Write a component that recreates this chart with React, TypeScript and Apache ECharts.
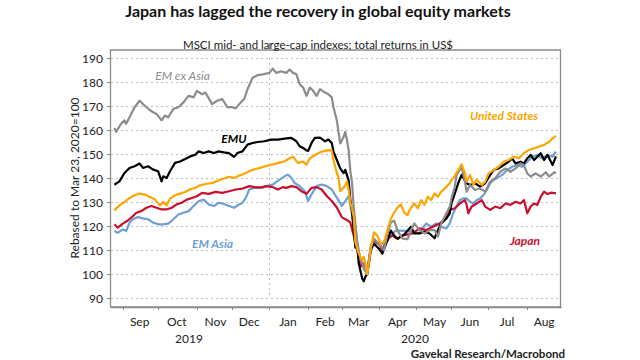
import React, { useEffect, useRef } from "react";
import * as echarts from "echarts";

const FONT = "Lato, 'Open Sans', sans-serif";

// Axis range: every weekday from 2019-08-22 to 2020-08-31
const AXIS_START = "2019-08-22";
const AXIS_END = "2020-08-31";
const MONTHS = ["Jan", "Feb", "Mar", "Apr", "May", "Jun", "Jul", "Aug", "Sep", "Oct", "Nov", "Dec"];
const YEAR_LABELS = ["2019", "2020"];

const SERIES_NAMES = ["EM ex Asia", "EMU", "United States", "Japan", "EM Asia"];

const emExAsia: [string, number][] = [
  ["2019-08-26",160.9],["2019-08-27",159.2],["2019-08-30",162.6],["2019-09-03",164],["2019-09-04",162.6],["2019-09-09",166.7],["2019-09-11",169.5],["2019-09-16",172.2],["2019-09-19",170.1],["2019-09-25",167.8],["2019-09-30",166.7],["2019-10-03",164],["2019-10-07",166],["2019-10-09",165.3],["2019-10-14",168.8],["2019-10-17",169.5],["2019-10-22",171.5],["2019-10-25",174.2],["2019-10-30",173.6],["2019-11-01",176.3],["2019-11-06",174.9],["2019-11-08",175.6],["2019-11-14",170.8],["2019-11-19",172.2],["2019-11-22",172.9],["2019-11-27",169.5],["2019-12-02",169.5],["2019-12-04",169],["2019-12-09",171.5],["2019-12-11",172.9],["2019-12-13",177],["2019-12-18",181.8],["2019-12-23",182.9],["2019-12-26",183.2],["2020-01-01",183.8],["2020-01-03",185.6],["2020-01-07",183.8],["2020-01-10",184.5],["2020-01-15",183.8],["2020-01-17",185.2],["2020-01-21",183.8],["2020-01-23",183.2],["2020-01-27",179],["2020-01-29",177.7],["2020-01-31",174.2],["2020-02-04",177.7],["2020-02-06",176.3],["2020-02-10",174.2],["2020-02-12",177],["2020-02-17",175.6],["2020-02-19",174.9],["2020-02-21",173.6],["2020-02-24",169.5],["2020-02-26",164],["2020-02-28",154.4],["2020-03-03",157.1],["2020-03-04",159.2],["2020-03-05",155.8],["2020-03-06",151.6],["2020-03-09",143],["2020-03-10",138],["2020-03-11",128],["2020-03-13",114],["2020-03-17",105.8],["2020-03-19",103],["2020-03-23",100],["2020-03-25",111.2],["2020-03-27",114.7],["2020-04-01",112.6],["2020-04-06",109.9],["2020-04-08",116.7],["2020-04-10",121.5],["2020-04-14",122.2],["2020-04-16",118.1],["2020-04-21",114.7],["2020-04-24",114.5],["2020-04-28",118.3],["2020-04-30",121.1],["2020-05-05",118.3],["2020-05-08",116.9],["2020-05-13",118.3],["2020-05-18",118.3],["2020-05-20",115.6],["2020-05-22",121.1],["2020-05-27",125.3],["2020-05-29",128],["2020-06-01",131.5],["2020-06-03",136.4],["2020-06-04",141.2],["2020-06-09",144.7],["2020-06-11",138.5],["2020-06-12",134.3],["2020-06-16",137.1],["2020-06-19",135],["2020-06-24",135.7],["2020-06-29",134.3],["2020-07-02",138.5],["2020-07-07",139.9],["2020-07-10",142.6],["2020-07-15",144],["2020-07-20",142.6],["2020-07-23",144],["2020-07-28",146.1],["2020-07-30",145.4],["2020-08-03",141.9],["2020-08-05",140.6],["2020-08-10",141.9],["2020-08-13",140.6],["2020-08-18",142.4],["2020-08-20",140.6],["2020-08-25",142.4],["2020-08-26",142]
];

const emu: [string, number][] = [
  ["2019-08-26",137.2],["2019-08-29",138.6],["2019-09-03",142.1],["2019-09-06",144.2],["2019-09-11",144.9],["2019-09-16",146],["2019-09-18",144.2],["2019-09-23",144.9],["2019-09-26",143.5],["2019-10-01",142.8],["2019-10-03",138.6],["2019-10-04",140.7],["2019-10-08",140],["2019-10-10",142.8],["2019-10-15",146.3],["2019-10-18",146.9],["2019-10-23",147.9],["2019-10-28",149],["2019-10-31",149.7],["2019-11-04",151.1],["2019-11-07",150.4],["2019-11-12",151.1],["2019-11-15",150.4],["2019-11-20",151.1],["2019-11-25",150.7],["2019-11-28",150.4],["2019-12-03",148.8],["2019-12-05",150.4],["2019-12-10",151.1],["2019-12-13",153.9],["2019-12-18",154.6],["2019-12-23",155],["2019-12-27",155.3],["2020-01-02",156],["2020-01-08",156],["2020-01-14",156.4],["2020-01-20",156.7],["2020-01-23",155.3],["2020-01-27",153.2],["2020-01-29",152.5],["2020-01-31",151.5],["2020-02-03",151.3],["2020-02-05",154.6],["2020-02-07",156.7],["2020-02-12",156.8],["2020-02-17",155.3],["2020-02-19",156],["2020-02-21",154.6],["2020-02-24",151],["2020-02-26",147.5],["2020-02-28",144],["2020-03-03",142],["2020-03-04",143.4],["2020-03-06",139],["2020-03-09",131],["2020-03-10",126],["2020-03-12",111],["2020-03-13",113],["2020-03-16",104.4],["2020-03-18",98.2],["2020-03-19",97],["2020-03-20",99],["2020-03-23",100],["2020-03-24",105],["2020-03-25",109.9],["2020-03-27",112.6],["2020-04-01",110.5],["2020-04-03",108.5],["2020-04-08",114],["2020-04-10",118.1],["2020-04-14",116],["2020-04-16",114.7],["2020-04-22",116.5],["2020-04-28",119.7],["2020-04-30",116.9],["2020-05-05",116.9],["2020-05-08",117.6],["2020-05-13",116.9],["2020-05-18",114.9],["2020-05-20",118.3],["2020-05-22",121.1],["2020-05-27",123.2],["2020-05-29",125.3],["2020-06-01",129.4],["2020-06-03",133.6],["2020-06-05",137.8],["2020-06-09",141.3],["2020-06-12",137.8],["2020-06-16",137.1],["2020-06-19",137.8],["2020-06-24",136.4],["2020-06-29",137.8],["2020-07-02",141.3],["2020-07-06",143.3],["2020-07-09",144],["2020-07-14",145.4],["2020-07-17",146.8],["2020-07-21",148.2],["2020-07-23",146.1],["2020-07-28",146.8],["2020-07-30",146.1],["2020-08-03",148.2],["2020-08-05",149.6],["2020-08-07",147.5],["2020-08-11",148.9],["2020-08-13",150.3],["2020-08-17",147.5],["2020-08-19",149.6],["2020-08-24",145.4],["2020-08-26",149]
];

const unitedStates: [string, number][] = [
  ["2019-08-26",126.5],["2019-08-29",128.6],["2019-09-03",130],["2019-09-06",131.7],["2019-09-11",132.8],["2019-09-16",133.5],["2019-09-19",133.1],["2019-09-24",132.1],["2019-09-27",131.1],["2019-10-02",128.6],["2019-10-04",130],["2019-10-08",128.6],["2019-10-10",131.4],["2019-10-15",132.8],["2019-10-18",133.5],["2019-10-23",134.2],["2019-10-28",135.3],["2019-10-31",135.9],["2019-11-04",136.7],["2019-11-07",137.3],["2019-11-12",137.7],["2019-11-15",138.1],["2019-11-20",139.1],["2019-11-25",139.8],["2019-11-28",140.5],["2019-12-03",140],["2019-12-06",141],["2019-12-10",141.4],["2019-12-16",142.8],["2019-12-18",143.4],["2019-12-24",144.1],["2019-12-27",144.8],["2020-01-02",145.5],["2020-01-08",146.2],["2020-01-14",147],["2020-01-17",148.2],["2020-01-21",148.9],["2020-01-24",146.2],["2020-01-27",146.5],["2020-01-29",146.8],["2020-01-31",145.5],["2020-02-04",148.2],["2020-02-07",149.6],["2020-02-13",151],["2020-02-19",151.6],["2020-02-21",151.4],["2020-02-24",147.5],["2020-02-26",142.1],["2020-02-27",140],["2020-02-28",134.5],["2020-03-03",135.9],["2020-03-04",137],["2020-03-05",138.6],["2020-03-06",135],["2020-03-09",130],["2020-03-11",124],["2020-03-12",113.3],["2020-03-16",108.5],["2020-03-18",105.8],["2020-03-19",107.1],["2020-03-20",104],["2020-03-23",100],["2020-03-25",109.9],["2020-03-27",117.4],["2020-03-31",116],["2020-04-02",112.6],["2020-04-06",113.3],["2020-04-08",118.1],["2020-04-10",122.9],["2020-04-14",125.6],["2020-04-16",127.7],["2020-04-20",129],["2020-04-22",125.6],["2020-04-24",124.5],["2020-04-27",126.5],["2020-04-30",129.4],["2020-05-04",127.4],["2020-05-06",130.8],["2020-05-08",128.8],["2020-05-12",132.2],["2020-05-14",130.8],["2020-05-18",133.6],["2020-05-20",132.2],["2020-05-22",134.3],["2020-05-27",136.4],["2020-05-29",137.8],["2020-06-01",139.2],["2020-06-02",139.9],["2020-06-05",143.3],["2020-06-09",145.7],["2020-06-11",141.9],["2020-06-12",138.5],["2020-06-16",141.3],["2020-06-18",137.1],["2020-06-22",139.2],["2020-06-25",137.1],["2020-06-29",138.5],["2020-07-01",141.9],["2020-07-06",143.3],["2020-07-09",144.7],["2020-07-14",146.8],["2020-07-17",147.5],["2020-07-22",148.9],["2020-07-27",148.2],["2020-07-30",150.3],["2020-08-04",151.7],["2020-08-07",152.4],["2020-08-12",153.1],["2020-08-17",153.8],["2020-08-20",155.1],["2020-08-24",156.5],["2020-08-26",157.6]
];

const japan: [string, number][] = [
  ["2019-08-26",120.7],["2019-08-28",119.3],["2019-09-02",121],["2019-09-05",122.3],["2019-09-10",124.1],["2019-09-12",125.5],["2019-09-17",126.2],["2019-09-20",127.6],["2019-09-25",128.3],["2019-09-30",127.6],["2019-10-03",126.9],["2019-10-08",126.9],["2019-10-11",127.6],["2019-10-16",129],["2019-10-21",129.7],["2019-10-24",131],["2019-10-29",131.7],["2019-11-01",132.4],["2019-11-06",133.8],["2019-11-12",133.4],["2019-11-18",134.2],["2019-11-22",133.8],["2019-11-28",134.5],["2019-12-04",135.2],["2019-12-10",135.6],["2019-12-16",136.6],["2019-12-20",136.1],["2019-12-26",136.1],["2019-12-30",136.6],["2020-01-03",136.2],["2020-01-08",135.2],["2020-01-13",136.2],["2020-01-15",135.9],["2020-01-20",136.6],["2020-01-23",136.2],["2020-01-28",134.5],["2020-01-31",133.4],["2020-02-05",135.9],["2020-02-10",136.2],["2020-02-13",135.2],["2020-02-18",132.5],["2020-02-21",130.4],["2020-02-26",127.7],["2020-03-02",123.6],["2020-03-05",122.5],["2020-03-09",121.5],["2020-03-11",116],["2020-03-13",110.5],["2020-03-17",103],["2020-03-19",104.4],["2020-03-20",103],["2020-03-23",100],["2020-03-25",110.5],["2020-03-27",114],["2020-04-01",112.6],["2020-04-03",109.9],["2020-04-08",114.7],["2020-04-13",116],["2020-04-16",114.7],["2020-04-21",116],["2020-04-24",116.5],["2020-04-29",116.9],["2020-05-05",119],["2020-05-11",118.3],["2020-05-15",119.7],["2020-05-21",121.1],["2020-05-27",123.2],["2020-05-29",126.7],["2020-06-03",127.4],["2020-06-08",129.4],["2020-06-11",130.8],["2020-06-12",128.8],["2020-06-15",125.3],["2020-06-17",128.1],["2020-06-22",129.4],["2020-06-25",130.8],["2020-06-29",128.1],["2020-07-02",126.7],["2020-07-07",128.1],["2020-07-10",127.4],["2020-07-15",129.4],["2020-07-20",128.8],["2020-07-23",130.1],["2020-07-28",129.4],["2020-07-30",130.8],["2020-08-03",125.3],["2020-08-05",128.1],["2020-08-07",129.4],["2020-08-11",128.8],["2020-08-13",132.2],["2020-08-17",134.3],["2020-08-19",133.3],["2020-08-21",133.9],["2020-08-26",133.6]
];

const emAsia: [string, number][] = [
  ["2019-08-26",117.9],["2019-08-28",117.2],["2019-09-02",118.6],["2019-09-04",117.9],["2019-09-06",121.4],["2019-09-10",122.8],["2019-09-13",123.7],["2019-09-18",123.2],["2019-09-23",122.8],["2019-09-26",121.4],["2019-10-01",120.7],["2019-10-04",120.7],["2019-10-09",121],["2019-10-14",122.8],["2019-10-17",124.8],["2019-10-22",125.5],["2019-10-25",126.2],["2019-10-30",128.3],["2019-11-04",130.3],["2019-11-07",131],["2019-11-12",129],["2019-11-15",128.3],["2019-11-20",129.7],["2019-11-25",129.2],["2019-11-28",128.3],["2019-12-03",127.6],["2019-12-06",129],["2019-12-10",129.7],["2019-12-12",131.7],["2019-12-16",135.2],["2019-12-19",135.9],["2019-12-24",135.9],["2019-12-30",136.6],["2020-01-03",137.3],["2020-01-09",139.3],["2020-01-14",140.7],["2020-01-16",141.4],["2020-01-20",140],["2020-01-22",137.9],["2020-01-27",136.6],["2020-01-30",134.5],["2020-02-03",130.4],["2020-02-05",133.2],["2020-02-10",136.6],["2020-02-13",137.3],["2020-02-18",136.6],["2020-02-21",135.2],["2020-02-26",131.8],["2020-03-02",128.4],["2020-03-04",130.4],["2020-03-06",132.5],["2020-03-10",124.9],["2020-03-12",115.3],["2020-03-16",108.5],["2020-03-18",104.4],["2020-03-19",102],["2020-03-23",100],["2020-03-26",112.6],["2020-03-31",112.6],["2020-04-07",112.6],["2020-04-10",116],["2020-04-15",118.1],["2020-04-20",118.1],["2020-04-23",118],["2020-04-29",117.6],["2020-05-05",116.9],["2020-05-11",121.1],["2020-05-14",119.7],["2020-05-19",121.1],["2020-05-22",119.7],["2020-05-27",119],["2020-05-29",121.1],["2020-06-02",125.3],["2020-06-04",128.1],["2020-06-08",130.8],["2020-06-10",131.5],["2020-06-12",131.5],["2020-06-16",130.1],["2020-06-18",129.4],["2020-06-22",130.8],["2020-06-24",131.5],["2020-06-26",132.9],["2020-06-30",135],["2020-07-02",137.8],["2020-07-06",139.2],["2020-07-13",141.2],["2020-07-16",143.3],["2020-07-21",144.7],["2020-07-24",145.4],["2020-07-29",144.7],["2020-08-03",146.8],["2020-08-06",148.9],["2020-08-11",149.6],["2020-08-14",148.2],["2020-08-19",149.6],["2020-08-24",148.9],["2020-08-26",151]
];

const COLORS = {
  emExAsia: "#8c8c8c",
  emu: "#000000",
  us: "#FFA500",
  japan: "#C8102E",
  emAsia: "#6E9FD6",
};

function weekdays(start: string, end: string): string[] {
  const out: string[] = [];
  const d = new Date(start + "T00:00:00Z");
  const e = new Date(end + "T00:00:00Z");
  while (d <= e) {
    const wd = d.getUTCDay();
    if (wd !== 0 && wd !== 6) out.push(d.toISOString().slice(0, 10));
    d.setUTCDate(d.getUTCDate() + 1);
  }
  return out;
}

export default function App() {
  const ref = useRef<HTMLDivElement>(null);
  useEffect(() => {
    if (!ref.current) return;
    const chart = echarts.init(ref.current, undefined, { renderer: "svg" });
    const dates = weekdays(AXIS_START, AXIS_END);
    const tickSet = new Set<number>();
    const labelSet = new Set<number>();
    let yearIdx = -1;
    for (let i = 1; i < dates.length; i++) {
      const m = dates[i].slice(0, 7);
      if (m !== dates[i - 1].slice(0, 7)) {
        tickSet.add(i);
        if (dates[i].slice(0, 4) !== dates[i - 1].slice(0, 4)) yearIdx = i;
      }
      const day = +dates[i].slice(8, 10);
      const prevDay = +dates[i - 1].slice(8, 10);
      if (day >= 16 && (prevDay < 16 || m !== dates[i - 1].slice(0, 7))) labelSet.add(i);
    }
    const axisColor = "#8a8a8a";
    const mk = (name: string, data: [string, number][], color: string, z: number) => ({
      name,
      type: "line",
      data,
      showSymbol: false,
      symbol: "none",
      z,
      lineStyle: { color, width: 2.2, join: "round" },
      itemStyle: { color },
    });
    const labelText = (text: string, x: number, y: number, color: string, weight: any) => ({
      type: "text",
      x,
      y,
      style: {
        text,
        fill: color,
        font: `italic ${weight} 12px ${FONT}`,
        textAlign: "center",
        textVerticalAlign: "middle",
      },
    });
    chart.setOption({
      animation: false,
      backgroundColor: "#ffffff",
      textStyle: { fontFamily: FONT },
      grid: { left: 111, right: 79, top: 58, bottom: 62, containLabel: false },
      xAxis: [
        {
          type: "category",
          data: dates,
          boundaryGap: false,
          offset: 9,
          axisLine: { lineStyle: { color: axisColor, width: 1.3 } },
          axisTick: { interval: (i: number) => tickSet.has(i), length: 3, lineStyle: { color: axisColor } },
          axisLabel: {
            interval: (i: number) => labelSet.has(i),
            formatter: (v: string) => MONTHS[+v.slice(5, 7) - 1],
            color: "#222",
            fontSize: 12,
            margin: 8,
            fontFamily: FONT,
          },
          splitLine: {
            show: true,
            interval: (i: number) => i === yearIdx,
            lineStyle: { type: [2, 3], color: "#bdbdbd", width: 1 },
          },
        },
        {
          type: "category",
          data: dates,
          boundaryGap: false,
          offset: 9,
          axisLine: { show: false },
          axisTick: { interval: (i: number) => i === yearIdx, length: 6, lineStyle: { color: axisColor } },
          axisLabel: { show: false },
          splitLine: { show: false },
        },
      ],
      yAxis: {
        type: "value",
        min: 90,
        max: 190,
        interval: 10,
        name: "Rebased to Mar 23, 2020=100",
        nameLocation: "middle",
        nameGap: 31,
        nameMoveOverlap: false,
        nameTextStyle: { fontSize: 12, color: "#222", fontFamily: FONT },
        axisLine: { show: false },
        axisTick: { show: true, length: 4, lineStyle: { color: axisColor } },
        axisLabel: { color: "#222", fontSize: 12, margin: 8, fontFamily: FONT },
        splitLine: { lineStyle: { type: [2, 3], color: "#bdbdbd", width: 1 } },
      },
      series: [
        mk(SERIES_NAMES[4], emAsia, COLORS.emAsia, 2),
        mk(SERIES_NAMES[3], japan, COLORS.japan, 3),
        mk(SERIES_NAMES[1], emu, COLORS.emu, 4),
        mk(SERIES_NAMES[0], emExAsia, COLORS.emExAsia, 5),
        mk(SERIES_NAMES[2], unitedStates, COLORS.us, 6),
      ],
      graphic: [
        {
          type: "rect",
          shape: { x: 110.5, y: 50, width: 450, height: 257 },
          style: { fill: "none", stroke: axisColor, lineWidth: 1.3 },
          silent: true,
        },
        {
          type: "text",
          x: 318,
          y: 10,
          style: {
            text: "Japan has lagged the recovery in global equity markets",
            fill: "#111",
            font: `bold 16px ${FONT}`,
            textAlign: "center",
            textVerticalAlign: "middle",
          },
        },
        {
          type: "text",
          x: 318,
          y: 44,
          style: {
            text: "MSCI mid- and large-cap indexes; total returns in US$",
            fill: "#222",
            font: `11.5px ${FONT}`,
            textAlign: "center",
            textVerticalAlign: "middle",
          },
        },
        {
          type: "text",
          x: 189,
          y: 338,
          style: { text: YEAR_LABELS[0], fill: "#222", font: `12px ${FONT}`, textAlign: "center", textVerticalAlign: "middle" },
        },
        {
          type: "text",
          x: 415,
          y: 338,
          style: { text: YEAR_LABELS[1], fill: "#222", font: `12px ${FONT}`, textAlign: "center", textVerticalAlign: "middle" },
        },
        labelText(SERIES_NAMES[0], 182.5, 75, COLORS.emExAsia, "normal"),
        labelText(SERIES_NAMES[1], 234, 138, COLORS.emu, "bold"),
        labelText(SERIES_NAMES[2], 504, 115, COLORS.us, "bold"),
        labelText(SERIES_NAMES[4], 212.5, 243, COLORS.emAsia, "bold"),
        labelText(SERIES_NAMES[3], 525, 240, COLORS.japan, "bold"),
        {
          type: "text",
          x: 565,
          y: 347,
          style: {
            text: "Gavekal Research/Macrobond",
            fill: "#222",
            font: `bold 11.5px ${FONT}`,
            textAlign: "right",
            textVerticalAlign: "top",
          },
        },
      ],
    });
    return () => chart.dispose();
  }, []);
  return (
    <div
      ref={ref}
      style={{ position: "fixed", left: 0, top: 0, width: 640, height: 360, background: "#fff" }}
    />
  );
}
